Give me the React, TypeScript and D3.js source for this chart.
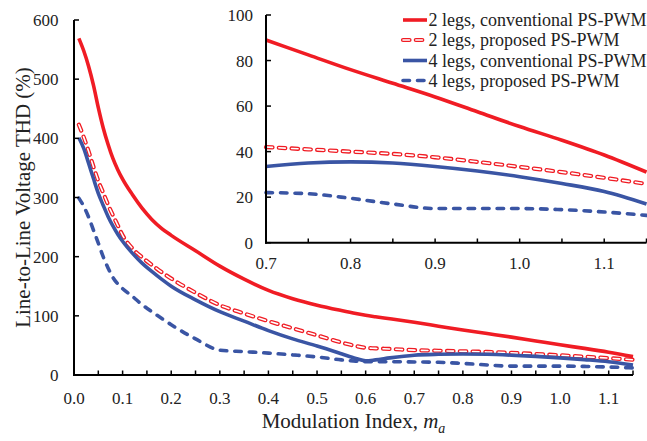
import React from "react";
import * as d3 from "d3";

// Modulation index samples (shared by all series)
const mValues = [
  0.01, 0.02, 0.03, 0.04, 0.05, 0.06, 0.07, 0.08, 0.09, 0.1, 0.12, 0.14, 0.16, 0.18, 0.2, 0.25, 0.3, 0.35, 0.4,
  0.45, 0.5, 0.55, 0.58, 0.6, 0.62, 0.65, 0.7, 0.75, 0.8, 0.85, 0.9, 0.95, 1.0, 1.05, 1.1, 1.15,
];
const conv2Legs = [
  569, 548, 522, 490, 452, 418, 390, 366, 347, 331, 305, 282, 263, 248, 236, 210, 184, 162, 143, 129, 118, 109,
  104, 101, 98.5, 95, 89, 82.5, 76, 70, 64, 57.5, 51, 45, 38.5, 31,
];
const prop2Legs = [
  423, 402, 378, 352, 328, 308, 288, 270, 253, 236, 214, 199, 186, 174, 163, 139, 118, 104, 91, 79, 67, 55, 49,
  46, 45, 44, 42, 41, 40, 39, 37.5, 35.5, 33.3, 31, 28.5, 25.8,
];
const conv4Legs = [
  401, 383, 358, 332, 307, 287, 268, 252, 238, 226, 206, 189, 175, 162, 150, 127, 107, 91, 75, 61, 49, 36, 28, 24,
  25.5, 29, 33.5, 35, 35.5, 35, 33.5, 31.5, 29, 26, 22.5, 17,
];
const prop4Legs = [
  299, 285, 267, 245, 223, 200, 181, 165, 154, 146, 133, 119, 107, 96, 85, 61, 42, 39.5, 37, 34, 30.5, 25.5, 23.5,
  22.5, 22.5, 22.5, 22, 21.5, 19.5, 17, 15, 15, 15, 14.5, 13.5, 12,
];
const seriesNames = [
  "2 legs, conventional PS-PWM",
  "2 legs, proposed PS-PWM",
  "4 legs, conventional PS-PWM",
  "4 legs, proposed PS-PWM",
];
const mainYTicks = [0, 100, 200, 300, 400, 500, 600];
const insetYTicks = [0, 20, 40, 60, 80, 100];

const RED = "#f01c24";
const BLUE = "#3a55a4";
const TXT = "#222";
const FONT = "Liberation Serif";

type Style = "redSolid" | "redDash" | "blueSolid" | "blueDash";
const styles: Style[] = ["redSolid", "redDash", "blueSolid", "blueDash"];
const allSeries = [conv2Legs, prop2Legs, conv4Legs, prop4Legs];

function StyledPath({ d, style }: { d: string; style: Style }) {
  if (style === "redSolid")
    return <path d={d} fill="none" stroke={RED} strokeWidth={3.6} strokeLinejoin="round" />;
  if (style === "blueSolid")
    return <path d={d} fill="none" stroke={BLUE} strokeWidth={3.6} strokeLinejoin="round" />;
  if (style === "blueDash")
    return (
      <path d={d} fill="none" stroke={BLUE} strokeWidth={3.6} strokeDasharray="6.5 8" strokeLinecap="round" />
    );
  return (
    <g>
      <path d={d} fill="none" stroke={RED} strokeWidth={4.2} strokeDasharray="6.5 6.3" strokeLinecap="round" />
      <path d={d} fill="none" stroke="#fff" strokeWidth={1.6} strokeDasharray="6.5 6.3" strokeLinecap="round" />
    </g>
  );
}

export default function App() {
  const xMain = d3.scaleLinear().domain([0, 1.15]).range([74, 633]);
  const yMain = d3.scaleLinear().domain([0, 600]).range([375, 20]);
  const xIn = d3.scaleLinear().domain([0.7, 1.15]).range([266, 646.5]);
  const yIn = d3.scaleLinear().domain([0, 100]).range([242.7, 15]);

  const mainXTicks = d3.range(0, 1.15 + 1e-9, 0.05);
  const insetXTicks = d3.range(0.7, 1.15 + 1e-9, 0.05);
  const fmt = d3.format(".1f");

  const lineMain = d3
    .line<number>()
    .x((_, i) => xMain(mValues[i]))
    .y((v) => yMain(v))
    .curve(d3.curveMonotoneX);

  const insetIdx = mValues.map((m, i) => i).filter((i) => mValues[i] >= 0.7 - 1e-9);
  const lineInset = d3
    .line<number>()
    .x((i) => xIn(mValues[i]))
    .curve(d3.curveMonotoneX);

  const legendX0 = 403;
  const legendX1 = 427;
  const legendRows = [20, 40, 60.5, 80.5];
  const ts = { fontFamily: FONT };

  return (
    <svg width={647} height={441} style={{ position: "absolute", left: 0, top: 0, background: "#fff" }}>
      <rect x={0} y={0} width={647} height={441} fill="#fff" />

      {allSeries.map((s, k) => (
        <StyledPath key={"m" + k} d={lineMain(s) || ""} style={styles[k]} />
      ))}

      <line x1={74} x2={74} y1={yMain(600)} y2={376} stroke="#000" strokeWidth={2} />
      <line x1={73} x2={xMain(1.15)} y1={375} y2={375} stroke="#000" strokeWidth={2} />
      {mainXTicks.map((t, i) => (
        <line key={"xt" + i} x1={xMain(t)} x2={xMain(t)} y1={375} y2={370.5} stroke="#000" strokeWidth={1.5} />
      ))}
      {mainXTicks
        .filter((_, i) => i % 2 === 0)
        .map((t, i) => (
          <text key={"xl" + i} x={xMain(t)} y={403.5} textAnchor="middle" fontSize={17} fill={TXT} style={ts}>
            {fmt(t)}
          </text>
        ))}
      {mainYTicks.map((t) => (
        <g key={"yt" + t}>
          <line x1={74} x2={79} y1={yMain(t)} y2={yMain(t)} stroke="#000" strokeWidth={1.5} />
          <text x={58.5} y={yMain(t) + 6} textAnchor="end" fontSize={17} fill={TXT} style={ts}>
            {t}
          </text>
        </g>
      ))}
      <text x={353.5} y={428} textAnchor="middle" fontSize={21} fill={TXT} style={ts}>
        Modulation Index,{" "}
        <tspan fontStyle="italic">m</tspan>
        <tspan fontStyle="italic" fontSize={14} dy={5}>
          a
        </tspan>
      </text>
      <text
        transform={`translate(29.5, ${(20 + 375) / 2}) rotate(-90)`}
        textAnchor="middle"
        fontSize={21}
        fill={TXT}
        style={ts}
      >
        Line-to-Line Voltage THD (%)
      </text>

      {allSeries.map((s, k) => {
        const ln = lineInset.y((i) => yIn(s[i as number]));
        return <StyledPath key={"i" + k} d={ln(insetIdx) || ""} style={styles[k]} />;
      })}

      <line x1={266} x2={266} y1={yIn(100)} y2={243.7} stroke="#000" strokeWidth={2} />
      <line x1={265} x2={xIn(1.15)} y1={242.7} y2={242.7} stroke="#000" strokeWidth={2} />
      {insetXTicks.map((t, i) => (
        <line key={"ixt" + i} x1={xIn(t)} x2={xIn(t)} y1={242.7} y2={238.5} stroke="#000" strokeWidth={1.5} />
      ))}
      {insetXTicks
        .filter((_, i) => i % 2 === 0)
        .map((t, i) => (
          <text key={"ixl" + i} x={xIn(t)} y={268.5} textAnchor="middle" fontSize={17} fill={TXT} style={ts}>
            {fmt(t)}
          </text>
        ))}
      {insetYTicks.map((t) => (
        <g key={"iyt" + t}>
          <line x1={266} x2={271} y1={yIn(t)} y2={yIn(t)} stroke="#000" strokeWidth={1.5} />
          <text x={253} y={yIn(t) + 6} textAnchor="end" fontSize={17} fill={TXT} style={ts}>
            {t}
          </text>
        </g>
      ))}

      {seriesNames.map((name, k) => (
        <g key={"lg" + k}>
          <StyledPath d={`M${legendX0},${legendRows[k]}L${legendX1},${legendRows[k]}`} style={styles[k]} />
          <text x={428.5} y={legendRows[k] + 6} fontSize={18} fill={TXT} style={ts}>
            {name}
          </text>
        </g>
      ))}
    </svg>
  );
}
